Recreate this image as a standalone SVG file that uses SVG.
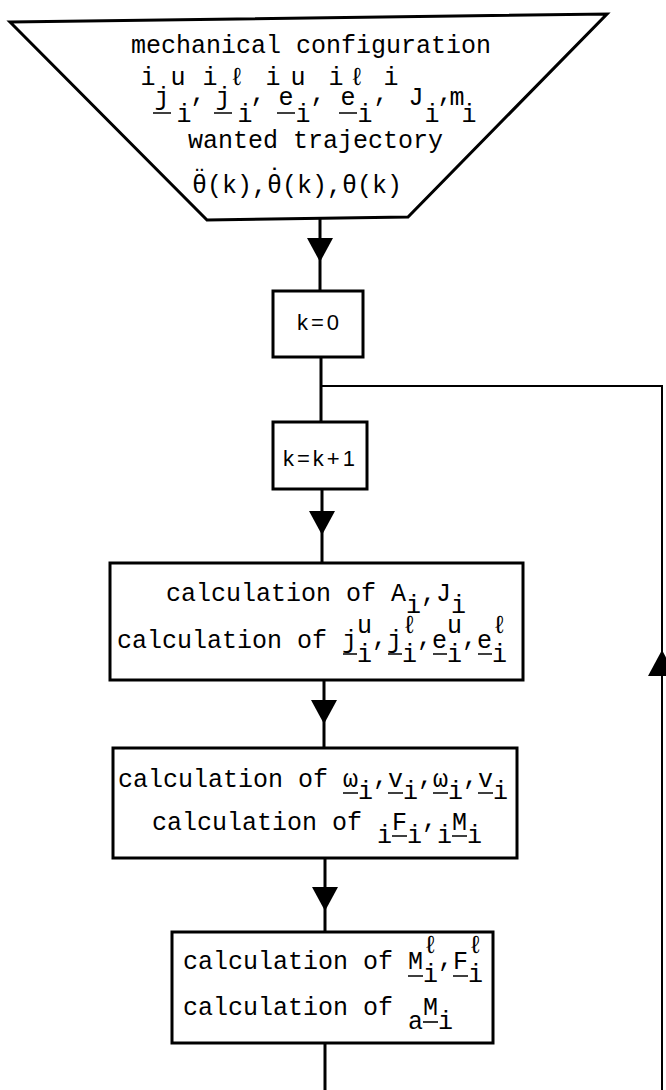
<svg xmlns="http://www.w3.org/2000/svg" xmlns:xlink="http://www.w3.org/1999/xlink" width="666" height="1090" viewBox="0 0 666 1090">
<style>
.tw{font-family:"Liberation Mono","DejaVu Sans Mono",monospace;font-size:25px;fill:#000}
.c{text-anchor:middle}
.sans{font-family:"Liberation Sans",Arial,sans-serif;font-size:22px;letter-spacing:3px;fill:#000}
.box{fill:#fff;stroke:#000;stroke-width:3;stroke-linejoin:miter}
.ln{stroke:#000;stroke-width:3;fill:none}
.thin{stroke:#000;stroke-width:2;fill:none}
.ul{stroke:#000;stroke-width:1.6;fill:none}
.ah{fill:#000;stroke:none}
</style>
<defs>
<path id="tri" d="M-13,0 L13,0 L0,24 Z"/>
<path id="triup" d="M-14,0 L14,0 L0,-26 Z"/>
</defs>
<rect width="666" height="1090" fill="#fff"/>

<g id="connectors">
<path class="ln" d="M320,219 V291 M321,357 V422 M322,489 V563 M324,680 V748 M325,858 V932 M325,1043 V1090"/>
<path class="thin" d="M321,386 H662 V1090"/>
<use xlink:href="#tri" class="ah" x="320" y="238"/>
<use xlink:href="#tri" class="ah" x="322" y="511"/>
<use xlink:href="#tri" class="ah" x="324" y="700"/>
<use xlink:href="#tri" class="ah" x="325" y="887"/>
<use xlink:href="#triup" class="ah" x="662" y="676"/>
</g>

<g id="n-input">
<polygon class="box" points="10,22 607,14 408,217 207,220"/>
<text class="tw" x="131" y="53">mechanical configuration</text>
<text class="tw c" x="148 178 210 237 273 298 336 357 391" y="85">iuiℓiuiℓi</text>
<text class="tw c" x="162 223 286 348 416 457" y="105">jjeeJm</text>
<text class="tw c" x="198 258 318 381 445" y="101">,,,,,</text>
<text class="tw c" x="184 245 303 365 432 469" y="122">iiiiii</text>
<path class="ul" d="M153,113h18M214,113h18M277,113h18M339,113h18"/>
<text class="tw" x="188" y="148">wanted trajectory</text>
<text class="tw" x="192" y="193">θ(k),θ(k),θ(k)</text>
<text class="tw c" x="199.5" y="186">¨</text>
<text class="tw c" x="274.5" y="186">˙</text>
</g>

<g id="n-k0">
<rect class="box" x="273" y="291" width="90" height="66"/>
<text class="sans" x="297" y="330">k=0</text>
</g>

<g id="n-kinc">
<rect class="box" x="273" y="422" width="94" height="67"/>
<text class="sans" x="283" y="466">k=k+1</text>
</g>

<g id="n-calc1">
<rect class="box" x="110" y="563" width="413" height="117"/>
<text class="tw" x="166" y="601">calculation of A</text>
<text class="tw c" x="428.5 443.5" y="601">,J</text>
<text class="tw c" x="413.5 458.5" y="613">ii</text>
<text class="tw c" x="364.5 409.5 454.5 499.5" y="633">uℓuℓ</text>
<text class="tw" x="117" y="648">calculation of</text>
<text class="tw c" x="349.5 394.5 439.5 484.5" y="648">jjee</text>
<text class="tw c" x="379.5 424.5 469.5" y="645">,,,</text>
<text class="tw c" x="364.5 409.5 454.5 499.5" y="662">iiii</text>
<path class="ul" d="M343,654h14M388,654h14M433,654h14M478,654h14"/>
</g>

<g id="n-calc2">
<rect class="box" x="113" y="748" width="404" height="110"/>
<text class="tw" x="118" y="787">calculation of</text>
<text class="tw c" x="350.5 395.5 440.5 485.5" y="787">ωvωv</text>
<text class="tw c" x="380.5 425.5 470.5" y="784">,,,</text>
<text class="tw c" x="365.5 410.5 455.5 500.5" y="799">iiii</text>
<path class="ul" d="M343,793h15M388,793h15M433,793h15M478,793h15"/>
<text class="tw" x="152" y="830">calculation of</text>
<text class="tw c" x="399.5 459.5" y="830">FM</text>
<text class="tw c" x="429.5" y="827">,</text>
<text class="tw c" x="384.5 414.5 444.5 474.5" y="843">iiii</text>
<path class="ul" d="M392,836h15M452,836h15"/>
</g>

<g id="n-calc3">
<rect class="box" x="172" y="932" width="321" height="111"/>
<text class="tw" x="183" y="969">calculation of</text>
<text class="tw c" x="415.5 460.5" y="969">MF</text>
<text class="tw c" x="445.5" y="966">,</text>
<text class="tw c" x="430.5 475.5" y="953">ℓℓ</text>
<text class="tw c" x="430.5 475.5" y="982">ii</text>
<path class="ul" d="M408,976h15M453,976h15"/>
<text class="tw" x="183" y="1015">calculation of</text>
<text class="tw c" x="430.5" y="1015">M</text>
<text class="tw c" x="415.5 445.5" y="1029">ai</text>
<path class="ul" d="M423,1022h15"/>
</g>
</svg>
